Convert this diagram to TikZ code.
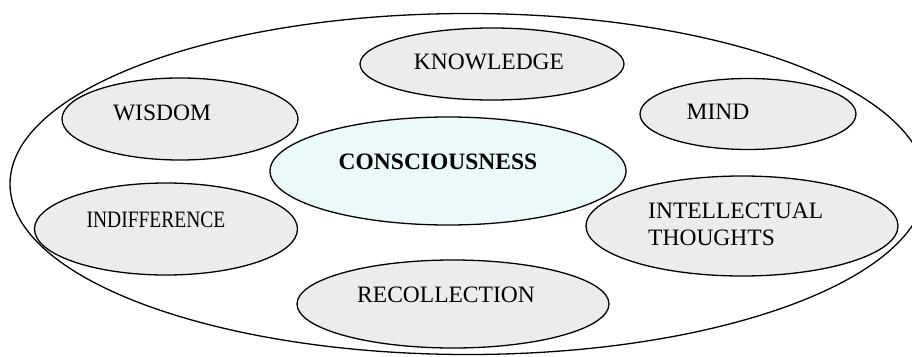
\documentclass[tikz,border=0pt]{standalone}
\usepackage{fontspec}
\setmainfont{Liberation Serif}
\usetikzlibrary{shapes.geometric}
\definecolor{blobfill}{RGB}{236,236,236}
\definecolor{corefill}{RGB}{234,250,250}
\begin{document}
\begin{tikzpicture}[x=1pt,y=-1pt,
  blob/.style={ellipse, draw=black, line width=1.3pt, fill=blobfill, inner sep=0pt},
  core/.style={blob, fill=corefill},
  txt/.style={font=\fontsize{23.5}{27}\selectfont, inner sep=0pt, anchor=center},
  outerring/.style={ellipse, draw=black, line width=1.3pt, inner sep=0pt}]
\useasboundingbox (0,0) rectangle (912,356);
\begin{scope}
\clip (0,0) rectangle (912,356);
\node[outerring, minimum width=916pt, minimum height=341pt] (outer) at (468,184) {};
\end{scope}
\node[blob, minimum width=264pt, minimum height=72pt] (know) at (492,64) {};
\node[txt] (knowt) at (489,62) {KNOWLEDGE};
\node[blob, minimum width=236pt, minimum height=82pt] (wis) at (180,119) {};
\node[txt] (wist) at (162,113) {WISDOM};
\node[blob, minimum width=216pt, minimum height=71pt] (mind) at (748,114) {};
\node[txt] (mindt) at (718,112) {MIND};
\node[core, minimum width=356pt, minimum height=108pt] (cons) at (448,171) {};
\node[txt, font=\fontsize{23.5}{27}\selectfont\bfseries] (const) at (438,162) {CONSCIOUSNESS};
\node[blob, minimum width=263pt, minimum height=92pt] (indi) at (166,229) {};
\node[txt] (indit) at (156,220) {\scalebox{0.83}[1]{INDIFFERENCE}};
\node[blob, minimum width=312pt, minimum height=88pt] (reco) at (453,304) {};
\node[txt] (recot) at (446,295) {RECOLLECTION};
\node[blob, minimum width=312pt, minimum height=100pt] (intel) at (742,226) {};
\node[txt, align=left, anchor=west] (intelt) at (648,224) {INTELLECTUAL\\THOUGHTS};
\end{tikzpicture}
\end{document}
